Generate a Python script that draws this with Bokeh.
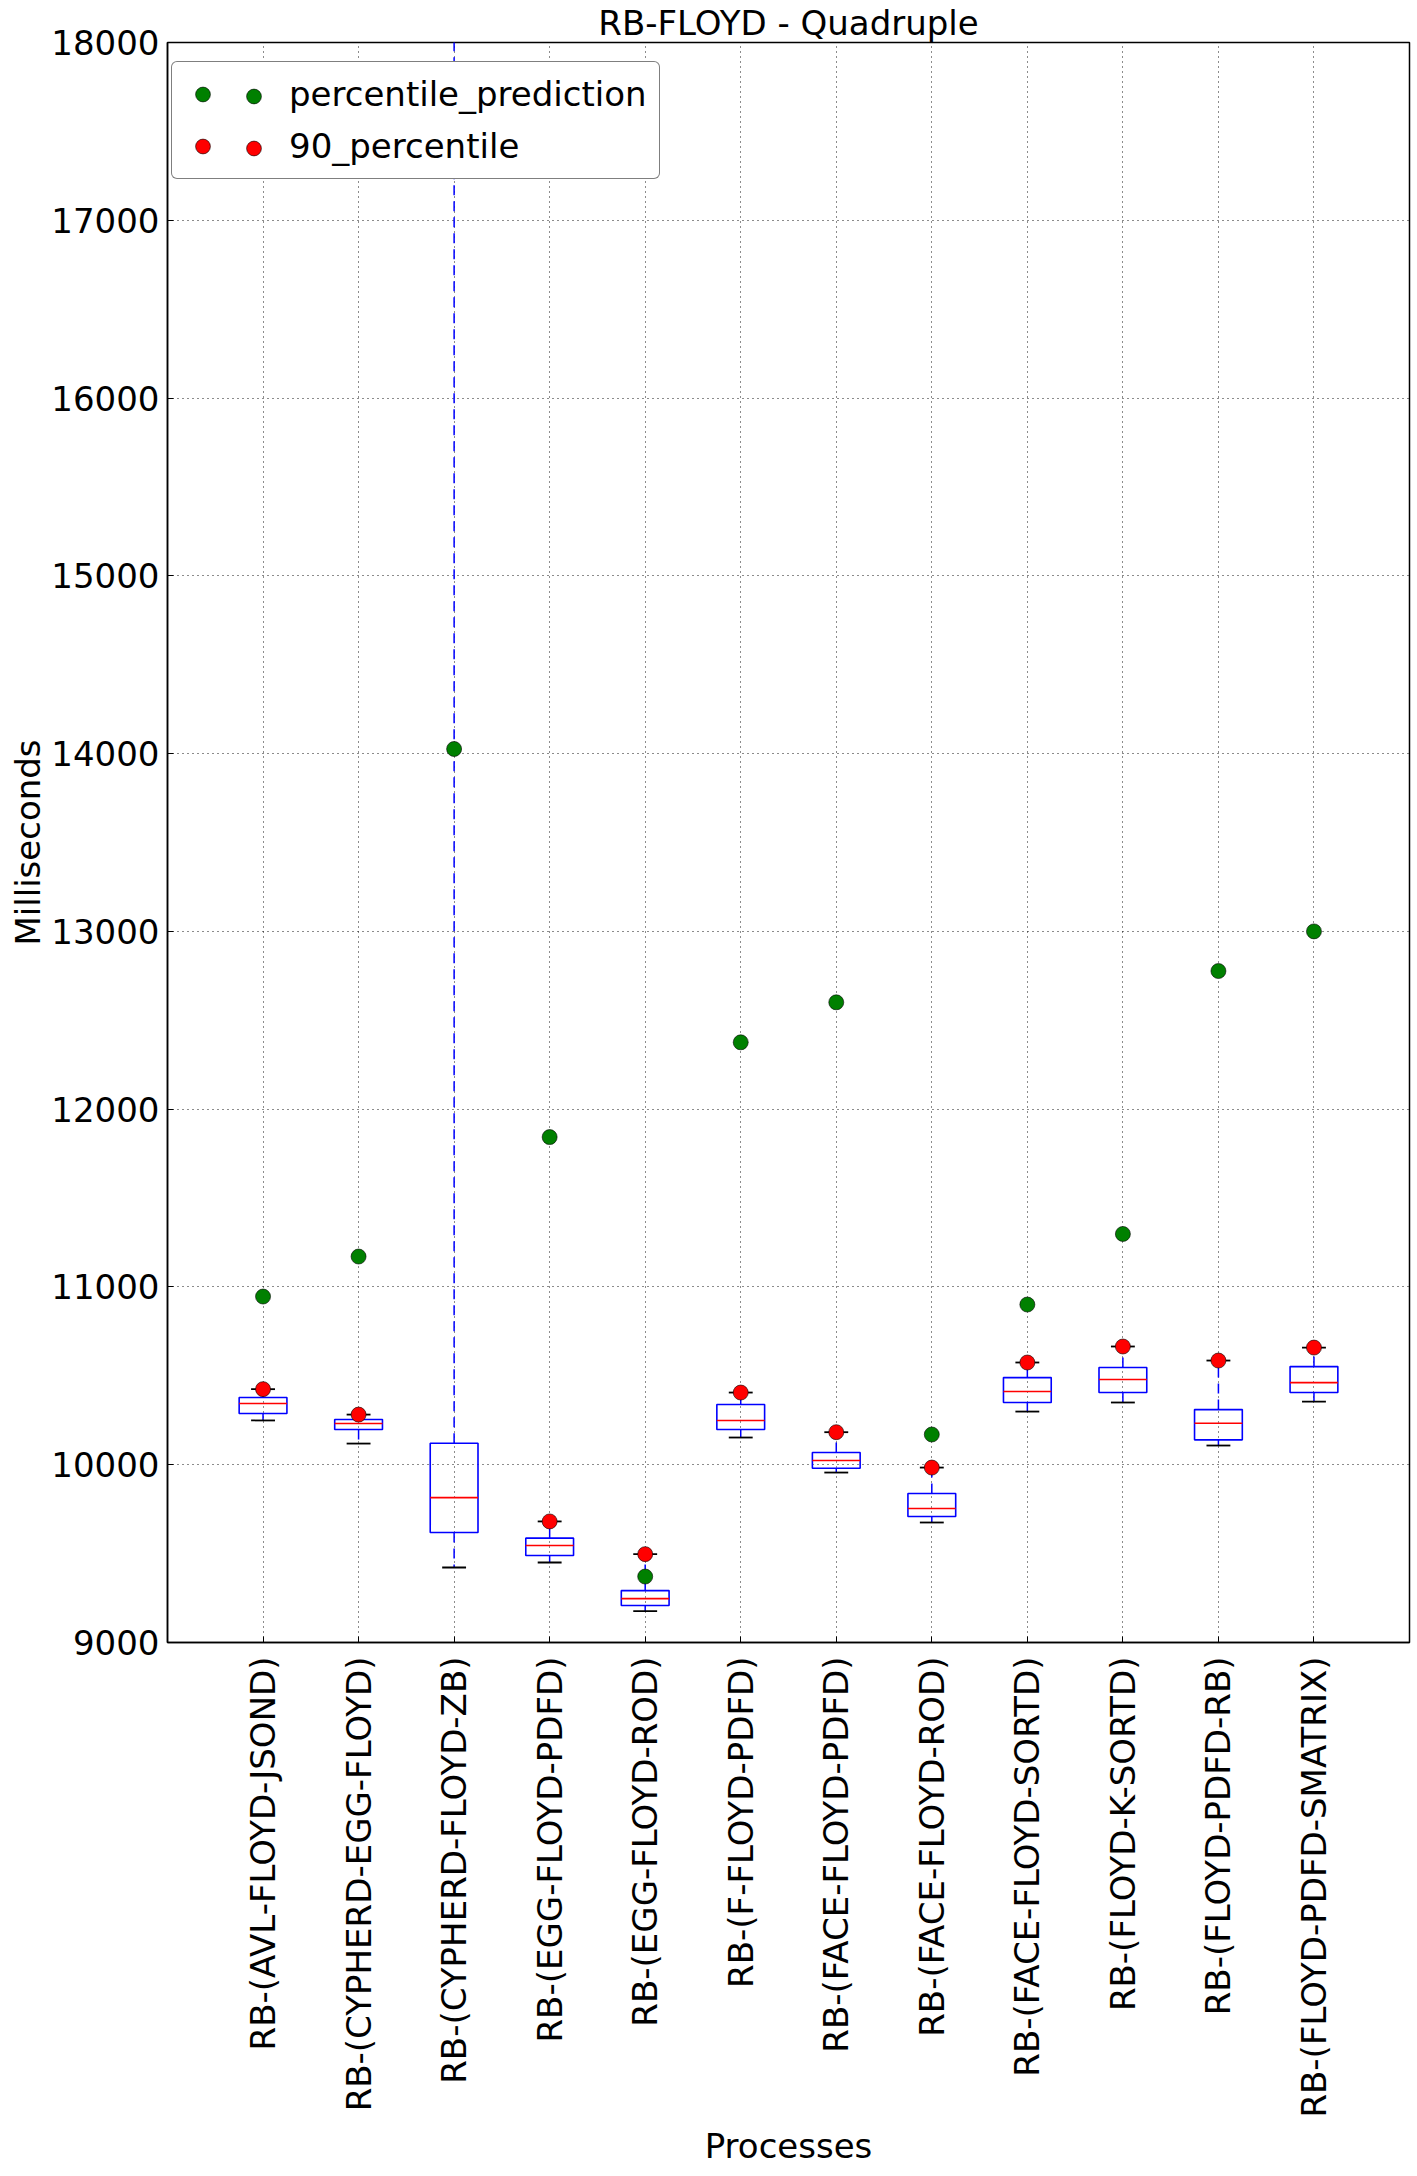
import math
from bokeh.plotting import figure
from bokeh.models import Range1d, FixedTicker, Legend, LegendItem
from bokeh.embed import file_html
from bokeh.resources import INLINE

# ---------------- data ----------------
categories = [
    "RB-(AVL-FLOYD-JSOND)",
    "RB-(CYPHERD-EGG-FLOYD)",
    "RB-(CYPHERD-FLOYD-ZB)",
    "RB-(EGG-FLOYD-PDFD)",
    "RB-(EGG-FLOYD-ROD)",
    "RB-(F-FLOYD-PDFD)",
    "RB-(FACE-FLOYD-PDFD)",
    "RB-(FACE-FLOYD-ROD)",
    "RB-(FACE-FLOYD-SORTD)",
    "RB-(FLOYD-K-SORTD)",
    "RB-(FLOYD-PDFD-RB)",
    "RB-(FLOYD-PDFD-SMATRIX)",
]
positions = list(range(1, len(categories) + 1))

whisker_low = [10249, 10119, 9422, 9450, 9176, 10153, 9956, 9675, 10299, 10350, 10108, 10355]
q1 = [10288, 10198, 9619, 9489, 9208, 10198, 9980, 9709, 10350, 10406, 10140, 10406]
median = [10344, 10232, 9815, 9546, 9247, 10249, 10024, 9754, 10412, 10479, 10233, 10462]
q3 = [10378, 10254, 10121, 9587, 9292, 10339, 10069, 9838, 10490, 10547, 10310, 10552]
whisker_high = [10425, 10282, 19500, 9681, 9497, 10406, 10183, 9984, 10575, 10665, 10586, 10659]
p90 = [10425, 10282, 19500, 9681, 9497, 10406, 10183, 9984, 10575, 10665, 10586, 10659]
prediction = [10946, 11171, 14026, 11843, 9371, 12376, 12601, 10170, 10901, 11298, 12777, 13000]

yticks = [9000, 10000, 11000, 12000, 13000, 14000, 15000, 16000, 17000, 18000]
title_text = "RB-FLOYD - Quadruple"

# ---------------- style ----------------
FONT = "DejaVu Sans"
FS = "34px"
BOX_HALF = 0.25
CAP_HALF = 0.125

p = figure(
    width=1412, height=2168,
    x_range=Range1d(0, 13), y_range=Range1d(9000, 18000),
    output_backend="svg", toolbar_location=None,
    min_border_left=167, min_border_right=3,
    min_border_top=42, min_border_bottom=525,
    x_axis_label="Processes", y_axis_label="Milliseconds",
    title=title_text,
)
p.title.align = "center"
p.title.text_font = FONT
p.title.text_font_size = FS
p.title.text_font_style = "normal"
p.title.text_color = "black"
p.title.standoff = 0
p.title.offset = 0

p.background_fill_color = "white"
p.border_fill_color = "white"
p.outline_line_color = "black"
p.outline_line_width = 1.5

# axes
p.xaxis.ticker = FixedTicker(ticks=positions)
p.xaxis.major_label_overrides = {pos: lab for pos, lab in zip(positions, categories)}
p.xaxis.major_label_orientation = math.pi / 2
p.yaxis.ticker = FixedTicker(ticks=yticks)
for ax in (p.xaxis, p.yaxis):
    ax.axis_line_color = "black"
    ax.axis_line_width = 1.5
    ax.major_tick_in = 6
    ax.major_tick_out = 0
    ax.major_tick_line_color = "black"
    ax.minor_tick_in = 0
    ax.minor_tick_out = 0
    ax.major_label_text_font = FONT
    ax.major_label_text_font_size = FS
    ax.major_label_text_color = "black"
    ax.axis_label_text_font = FONT
    ax.axis_label_text_font_size = FS
    ax.axis_label_text_font_style = "normal"
    ax.axis_label_text_color = "black"
p.xaxis.major_label_standoff = 14
p.xaxis.axis_label_standoff = 5
p.yaxis.major_label_standoff = 8
p.yaxis.axis_label_standoff = 0

# grid
for g in (p.xgrid, p.ygrid):
    g.grid_line_color = "black"
    g.grid_line_dash = "1 4"
    g.grid_line_width = 1
    g.grid_line_alpha = 0.9

# ---------------- boxes ----------------
lefts = [x - BOX_HALF for x in positions]
rights = [x + BOX_HALF for x in positions]
cap_l = [x - CAP_HALF for x in positions]
cap_r = [x + CAP_HALF for x in positions]

# whiskers (dashed blue)
p.segment(x0=positions, y0=q3, x1=positions, y1=whisker_high,
          line_color="blue", line_width=1.5, line_dash="10 6")
p.segment(x0=positions, y0=q1, x1=positions, y1=whisker_low,
          line_color="blue", line_width=1.5, line_dash="10 6")
# caps (black)
p.segment(x0=cap_l, y0=whisker_high, x1=cap_r, y1=whisker_high,
          line_color="black", line_width=1.8)
p.segment(x0=cap_l, y0=whisker_low, x1=cap_r, y1=whisker_low,
          line_color="black", line_width=1.8)
# boxes
p.quad(left=lefts, right=rights, bottom=q1, top=q3,
       fill_color=None, line_color="blue", line_width=1.6)
# medians
p.segment(x0=lefts, y0=median, x1=rights, y1=median,
          line_color="red", line_width=1.6)

# points
g_r = p.scatter(x=positions, y=prediction, size=15, marker="circle",
                fill_color="green", line_color="black", line_width=0.6)
r_r = p.scatter(x=positions, y=p90, size=15, marker="circle",
                fill_color="red", line_color="black", line_width=0.6)

# ---------------- legend (two markers per entry, like numpoints=2) ----------------
LEG_X = 4
LEG_Y = 1463
common = dict(orientation="vertical", padding=12, spacing=12,
              glyph_width=37, glyph_height=40, label_height=40,
              margin=0, label_text_font=FONT, label_text_font_size=FS,
              label_text_color="black")
legA = Legend(items=[LegendItem(label="percentile_prediction", renderers=[g_r]),
                     LegendItem(label="90_percentile", renderers=[r_r])],
              location=(LEG_X, LEG_Y), label_standoff=68,
              border_line_color="black", border_line_width=1.5,
              background_fill_color="white", background_fill_alpha=1.0,
              **common)
legB = Legend(items=[LegendItem(label=" ", renderers=[g_r]),
                     LegendItem(label=" ", renderers=[r_r])],
              location=(LEG_X + 64, LEG_Y + 11), label_standoff=0,
              border_line_color=None, background_fill_alpha=0.0,
              **common)
try:
    legA.border_radius = 6
except Exception:
    pass
p.add_layout(legA, "center")
p.add_layout(legB, "center")

open("out.html", "w").write(file_html(p, INLINE))
